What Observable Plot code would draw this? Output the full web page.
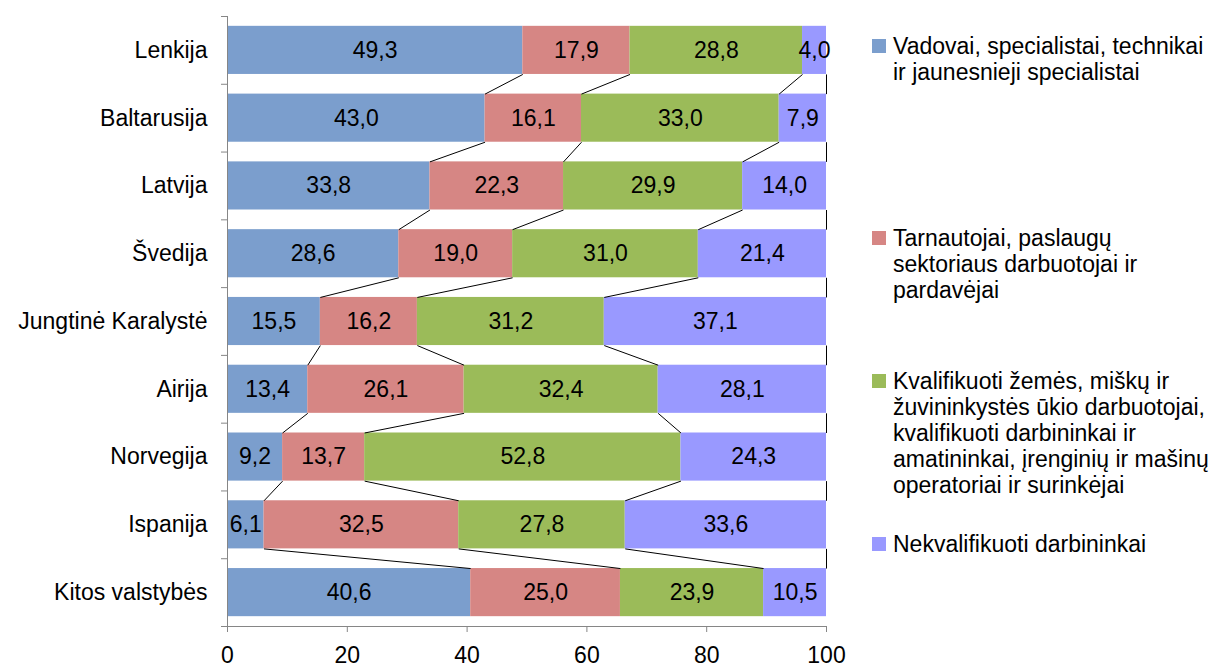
<!DOCTYPE html>
<html><head><meta charset="utf-8">
<script src="https://cdn.jsdelivr.net/npm/d3@7"></script>
<script src="https://cdn.jsdelivr.net/npm/@observablehq/plot@0.6"></script>
<style>
body{margin:0;background:#fff;font-family:"Liberation Sans",Arial,sans-serif;}
#wrap{position:relative;width:1227px;height:668px;overflow:hidden;}
#legend{position:absolute;left:872px;top:0;font-size:23px;line-height:26px;color:#000;}
.item{position:absolute;left:0;white-space:nowrap;}
.sw{position:absolute;left:0;top:6px;width:14px;height:14px;}
.txt{position:absolute;left:21px;top:0;}
</style></head><body>
<div id="wrap"><div id="chart"></div><div id="legend"></div></div>
<script>
const countries = ["Lenkija","Baltarusija","Latvija","Švedija","Jungtinė Karalystė","Airija","Norvegija","Ispanija","Kitos valstybės"];
const seriesNames = [
  "Vadovai, specialistai, technikai\nir jaunesnieji specialistai",
  "Tarnautojai, paslaugų\nsektoriaus darbuotojai ir\npardavėjai",
  "Kvalifikuoti žemės, miškų ir\nžuvininkystės ūkio darbuotojai,\nkvalifikuoti darbininkai ir\namatininkai, įrenginių ir mašinų\noperatoriai ir surinkėjai",
  "Nekvalifikuoti darbininkai"
];
const vadovai     = [49.3, 43.0, 33.8, 28.6, 15.5, 13.4, 9.2, 6.1, 40.6];
const tarnautojai = [17.9, 16.1, 22.3, 19.0, 16.2, 26.1, 13.7, 32.5, 25.0];
const kvalifikuoti= [28.8, 33.0, 29.9, 31.0, 31.2, 32.4, 52.8, 27.8, 23.9];
const nekvalif    = [4.0, 7.9, 14.0, 21.4, 37.1, 28.1, 24.3, 33.6, 10.5];
const xTicks = [0, 20, 40, 60, 80, 100];
const colors = ["#7b9ecd", "#d68684", "#9bbb59", "#9999ff"];

const series = [vadovai, tarnautojai, kvalifikuoti, nekvalif];
const half = 0.355;
const segs = [];
const cums = series.map(() => []);
countries.forEach((c, i) => {
  let acc = 0;
  series.forEach((vals, k) => {
    const x1 = acc, x2 = acc + vals[i];
    segs.push({i, k, x1, x2, v: vals[i]});
    cums[k].push(k === series.length - 1 ? 100 : x2);
    acc = x2;
  });
});
const links = [];
cums.forEach((arr) => {
  for (let i = 0; i < countries.length - 1; i++) {
    links.push({x1: arr[i], y1: i + half, x2: arr[i + 1], y2: i + 1 - half});
  }
});
const fmt = v => v.toFixed(1).replace(".", ",");
const bounds = d3.range(-0.5, countries.length, 1);
const FS = 23;

const plot = Plot.plot({
  width: 1227, height: 668,
  marginLeft: 227, marginRight: 401, marginTop: 16, marginBottom: 42,
  style: {fontFamily: "'Liberation Sans', Arial, sans-serif", fontSize: FS + "px", color: "#000", background: "#fff", overflow: "visible"},
  x: {domain: [0, 100]},
  y: {domain: [-0.5, countries.length - 0.5], reverse: true},
  marks: [
    Plot.rect(segs, {x1: "x1", x2: "x2", y1: d => d.i - half, y2: d => d.i + half, fill: d => colors[d.k]}),
    Plot.link(links, {x1: "x1", y1: "y1", x2: "x2", y2: "y2", stroke: "#000", strokeWidth: 1}),
    Plot.text(segs, {x: d => (d.x1 + d.x2) / 2, y: "i", text: d => fmt(d.v), fill: "#000", fontSize: FS}),
    Plot.ruleX([0], {stroke: "#868686"}),
    Plot.ruleY([countries.length - 0.5], {stroke: "#868686"}),
    Plot.axisY({ticks: bounds, tickSize: 6, tickFormat: () => "", stroke: "#868686"}),
    Plot.axisY({ticks: d3.range(countries.length), tickSize: 0, tickPadding: 20, tickFormat: i => countries[i], fontSize: FS}),
    Plot.axisX({ticks: xTicks, tickSize: 6, tickPadding: 14, stroke: "#868686", fontSize: FS, tickFormat: d => String(d)})
  ]
});
document.getElementById("chart").appendChild(plot);

const legendTops = [33, 225, 368, 531];
const leg = document.getElementById("legend");
seriesNames.forEach((name, k) => {
  const it = document.createElement("div");
  it.className = "item";
  it.style.top = legendTops[k] + "px";
  const sw = document.createElement("div");
  sw.className = "sw"; sw.style.background = colors[k];
  const t = document.createElement("div");
  t.className = "txt";
  t.innerHTML = name.split("\n").join("<br>");
  it.appendChild(sw); it.appendChild(t);
  leg.appendChild(it);
});
</script>
</body></html>
